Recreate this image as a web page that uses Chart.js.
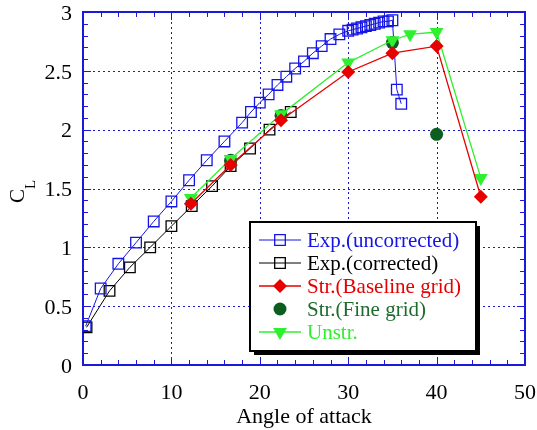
<!DOCTYPE html>
<html>
<head>
<meta charset="utf-8">
<script src="https://cdn.jsdelivr.net/npm/chart.js@4"></script>
<style>
  body { margin: 0; background: #fff; }
</style>
</head>
<body>
<canvas id="chartCL" width="537" height="430"></canvas>
<script>
// Exp.(uncorrected)
const uncorrAoa = [0.3, 2, 4, 6, 8, 10, 12, 14, 16, 18, 19, 20, 21, 22, 23, 24, 25, 26, 27, 28, 29,
    30, 30.5, 31, 31.5, 32, 32.5, 33, 33.5, 34, 34.5, 35, 35.5, 36];
const uncorrCl = [0.33, 0.65, 0.86, 1.04, 1.22, 1.39, 1.57, 1.74, 1.90, 2.06, 2.15, 2.23, 2.30, 2.38, 2.45, 2.52, 2.58, 2.65, 2.71, 2.77, 2.81,
    2.84, 2.85, 2.86, 2.87, 2.88, 2.89, 2.90, 2.91, 2.92, 2.92, 2.93, 2.34, 2.22];

// Exp.(corrected)
const corrAoa = [0.4, 3, 5.3, 7.6, 10, 12.3, 14.6, 16.7, 18.9, 21.1, 23.5];
const corrCl = [0.32, 0.63, 0.83, 1.0, 1.18, 1.35, 1.52, 1.69, 1.84, 2.0, 2.15];

// Str.(Baseline grid)
const baseAoa = [12.2, 16.7, 22.4, 30, 35, 40, 45];
const baseCl = [1.37, 1.70, 2.08, 2.49, 2.65, 2.71, 1.43];

// Str.(Fine grid)
const fineAoa = [16.7, 22.4, 35, 40];
const fineCl = [1.74, 2.12, 2.74, 1.96];

// Unstr.
const unstrAoa = [12.2, 16.7, 22.4, 30, 35, 37, 40, 45];
const unstrCl = [1.42, 1.75, 2.13, 2.57, 2.76, 2.81, 2.83, 1.59];

const xTicks = [0, 10, 20, 30, 40, 50];
const yTicks = [0, 0.5, 1, 1.5, 2, 2.5, 3];

const BLUE = '#1414e6';
const RED = '#e60000';
const DKGREEN = '#0b5e1f';
const GREEN = '#2ef02e';
const AXIS = '#1a1ad8';
const SERIF = "'Liberation Serif', 'Times New Roman', serif";

function pts(xs, ys) {
    return xs.map((v, i) => ({ x: v, y: ys[i] }));
}

// blue frame, dotted grid and inward ticks
const frameGrid = {
    id: 'frameGrid',
    beforeDatasetsDraw(chart) {
        const { ctx, chartArea: a, scales: { x, y } } = chart;
        ctx.save();
        ctx.strokeStyle = AXIS;
        ctx.lineWidth = 1;
        ctx.setLineDash([2, 3]);
        ctx.beginPath();
        xTicks.slice(1, -1).forEach(v => {
            const px = Math.round(x.getPixelForValue(v)) + 0.5;
            ctx.moveTo(px, a.top);
            ctx.lineTo(px, a.bottom);
        });
        yTicks.slice(1, -1).forEach(v => {
            const py = Math.round(y.getPixelForValue(v)) + 0.5;
            ctx.moveTo(a.left, py);
            ctx.lineTo(a.right, py);
        });
        ctx.stroke();
        ctx.setLineDash([]);

        ctx.beginPath();
        for (let v = 0; v <= 50; v += 2) {
            const px = Math.round(x.getPixelForValue(v)) + 0.5;
            const len = v % 10 === 0 ? 8 : 5;
            ctx.moveTo(px, a.bottom); ctx.lineTo(px, a.bottom - len);
            ctx.moveTo(px, a.top); ctx.lineTo(px, a.top + len);
        }
        for (let k = 0; k <= 30; k++) {
            const py = Math.round(y.getPixelForValue(k / 10)) + 0.5;
            const len = k % 5 === 0 ? 8 : 5;
            ctx.moveTo(a.left, py); ctx.lineTo(a.left + len, py);
            ctx.moveTo(a.right, py); ctx.lineTo(a.right - len, py);
        }
        ctx.stroke();

        ctx.lineWidth = 2;
        ctx.strokeRect(a.left, a.top, a.right - a.left, a.bottom - a.top);
        ctx.restore();
    }
};

// C_L axis title and the boxed legend
const extras = {
    id: 'extras',
    afterDraw(chart) {
        const ctx = chart.ctx;
        ctx.save();
        ctx.translate(24, 203);
        ctx.rotate(-Math.PI / 2);
        ctx.fillStyle = '#000';
        ctx.textBaseline = 'alphabetic';
        ctx.textAlign = 'left';
        ctx.font = '21px ' + SERIF;
        ctx.fillText('C', 0, 0);
        const cw = ctx.measureText('C').width;
        ctx.font = '15px ' + SERIF;
        ctx.fillText('L', cw, 11);
        ctx.restore();

        const box = { l: 250, t: 222, r: 476, b: 351 };
        ctx.save();
        ctx.fillStyle = '#000';
        ctx.fillRect(box.l + 4, box.t + 4, box.r - box.l, box.b - box.t);
        ctx.fillStyle = '#fff';
        ctx.fillRect(box.l, box.t, box.r - box.l, box.b - box.t);
        ctx.strokeStyle = '#000';
        ctx.lineWidth = 2;
        ctx.strokeRect(box.l, box.t, box.r - box.l, box.b - box.t);

        ctx.font = '21px ' + SERIF;
        ctx.textBaseline = 'middle';
        ctx.textAlign = 'left';
        const rows = chart.data.datasets;
        rows.forEach((ds, i) => {
            const yy = 240 + i * 23;
            if (ds.showLine) {
                ctx.strokeStyle = ds.borderColor;
                ctx.lineWidth = ds.borderWidth;
                ctx.beginPath();
                ctx.moveTo(259, yy);
                ctx.lineTo(301, yy);
                ctx.stroke();
            }
            ctx.fillStyle = ds.pointBackgroundColor;
            ctx.strokeStyle = ds.pointBorderColor;
            ctx.lineWidth = ds.pointBorderWidth;
            Chart.helpers.drawPoint(ctx, {
                pointStyle: ds.pointStyle,
                radius: ds.pointRadius,
                rotation: ds.pointRotation || 0,
                borderWidth: ds.pointBorderWidth
            }, 280, yy);
            ctx.fillStyle = ds.legendColor;
            ctx.fillText(ds.label, 307, yy + 1);
        });
        ctx.restore();
    }
};

const ctxCL = document.getElementById('chartCL').getContext('2d');
new Chart(ctxCL, {
    type: 'scatter',
    data: {
        datasets: [
            {
                label: 'Exp.(uncorrected)',
                data: pts(uncorrAoa, uncorrCl),
                showLine: true,
                borderColor: BLUE,
                borderWidth: 1,
                pointStyle: 'rect',
                pointRadius: 7.5,
                pointBorderWidth: 1.3,
                pointBorderColor: BLUE,
                pointBackgroundColor: 'rgba(0,0,0,0)',
                legendColor: BLUE,
                order: 4
            },
            {
                label: 'Exp.(corrected)',
                data: pts(corrAoa, corrCl),
                showLine: true,
                borderColor: '#000',
                borderWidth: 1,
                pointStyle: 'rect',
                pointRadius: 7.5,
                pointBorderWidth: 1.3,
                pointBorderColor: '#000',
                pointBackgroundColor: 'rgba(0,0,0,0)',
                legendColor: '#000',
                order: 5
            },
            {
                label: 'Str.(Baseline grid)',
                data: pts(baseAoa, baseCl),
                showLine: true,
                borderColor: RED,
                borderWidth: 1.3,
                pointStyle: 'rectRot',
                pointRadius: 7,
                pointBorderWidth: 0,
                pointBorderColor: RED,
                pointBackgroundColor: RED,
                legendColor: RED,
                order: 1
            },
            {
                label: 'Str.(Fine grid)',
                data: pts(fineAoa, fineCl),
                showLine: false,
                borderColor: DKGREEN,
                borderWidth: 1,
                pointStyle: 'circle',
                pointRadius: 6.5,
                pointBorderWidth: 0,
                pointBorderColor: DKGREEN,
                pointBackgroundColor: DKGREEN,
                legendColor: '#1e6b2e',
                order: 3
            },
            {
                label: 'Unstr.',
                data: pts(unstrAoa, unstrCl),
                showLine: true,
                borderColor: GREEN,
                borderWidth: 1.3,
                pointStyle: 'triangle',
                pointRotation: 180,
                pointRadius: 8,
                pointBorderWidth: 0,
                pointBorderColor: GREEN,
                pointBackgroundColor: GREEN,
                legendColor: GREEN,
                order: 2
            }
        ]
    },
    options: {
        responsive: false,
        animation: false,
        devicePixelRatio: 1,
        layout: { padding: { top: 12, right: 12, left: 0, bottom: 0 } },
        plugins: {
            legend: { display: false },
            tooltip: { enabled: false }
        },
        scales: {
            x: {
                type: 'linear',
                min: 0,
                max: 50,
                afterFit: s => {
                    s.height = 65;
                    s.paddingLeft = 0;
                    s.paddingRight = 0;
                },
                afterBuildTicks: s => { s.ticks = xTicks.map(v => ({ value: v })); },
                grid: { display: false, drawTicks: false },
                border: { display: false },
                ticks: {
                    color: '#000', padding: 17, maxRotation: 0,
                    font: { family: SERIF, size: 22, lineHeight: 1 },
                    callback: v => String(v)
                },
                title: {
                    display: true,
                    text: 'Angle of attack',
                    color: '#000',
                    font: { family: SERIF, size: 22, lineHeight: 1 },
                    padding: { top: 0, bottom: 2 }
                }
            },
            y: {
                type: 'linear',
                min: 0,
                max: 3,
                afterFit: s => {
                    s.width = 83;
                    s.paddingTop = 0;
                    s.paddingBottom = 0;
                },
                afterBuildTicks: s => { s.ticks = yTicks.map(v => ({ value: v })); },
                grid: { display: false, drawTicks: false },
                border: { display: false },
                ticks: {
                    color: '#000', padding: 11, labelOffset: 2,
                    font: { family: SERIF, size: 22, lineHeight: 1 },
                    callback: v => String(v)
                }
            }
        }
    },
    plugins: [frameGrid, extras]
});
</script>
</body>
</html>
